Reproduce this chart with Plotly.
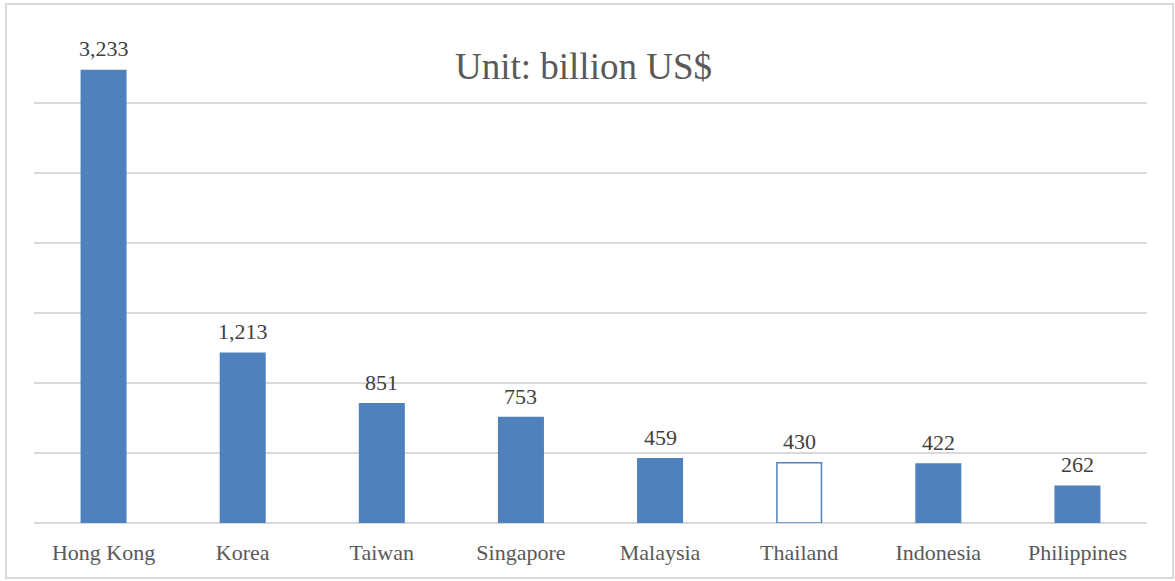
import plotly.graph_objects as go

# Category labels and values (billion US$)
economies = ["Hong Kong", "Korea", "Taiwan", "Singapore", "Malaysia",
             "Thailand", "Indonesia", "Philippines"]
values = [3233, 1213, 851, 753, 459, 430, 422, 262]
hollow = ["Thailand"]  # drawn with outline only

BLUE = "#4F81BD"
GRID = "#D9D9D9"
TEXT = "#595959"
FONT = "Liberation Serif, Times New Roman, serif"

fill_colors = ["white" if e in hollow else BLUE for e in economies]

fig = go.Figure()
fig.add_trace(go.Bar(
    x=economies,
    y=values,
    marker=dict(color=fill_colors, line=dict(color=BLUE, width=1.5)),
    width=0.32,
    hoverinfo="x+y",
))

# value labels above each bar
for e, v in zip(economies, values):
    fig.add_annotation(
        x=e, y=v, text=f"{v:,}", showarrow=False,
        yanchor="bottom", yshift=7,
        font=dict(family=FONT, size=22, color="#404040"),
    )

# chart title inside the plot area
fig.add_annotation(
    x=0.494, y=0.932, xref="paper", yref="paper", text="Unit: billion US$",
    showarrow=False, xanchor="center", yanchor="middle",
    font=dict(family=FONT, size=37, color=TEXT),
)

# outer chart frame
L, R, T, B = 34, 28, 33, 58
W, H = 1175, 581
pw, ph = W - L - R, H - T - B
fig.add_shape(
    type="rect", xref="paper", yref="paper",
    x0=(6 - L) / pw, x1=(1173 - L) / pw,
    y0=(H - B - 578) / ph, y1=(H - B - 4) / ph,
    line=dict(color=GRID, width=2), fillcolor="rgba(0,0,0,0)", layer="below",
)

fig.update_layout(
    width=W, height=H,
    margin=dict(l=L, r=R, t=T, b=B, pad=0),
    paper_bgcolor="white", plot_bgcolor="white",
    showlegend=False,
    font=dict(family=FONT, color=TEXT),
    xaxis=dict(
        showgrid=False, showline=False, ticks="",
        tickfont=dict(family=FONT, size=22, color=TEXT),
        ticklabelstandoff=14,
    ),
    yaxis=dict(
        range=[0, 3500], dtick=500, showticklabels=False,
        showgrid=True, gridcolor=GRID, gridwidth=1.5,
        zeroline=True, zerolinecolor=GRID, zerolinewidth=1.5,
        showline=False, ticks="",
    ),
)

fig.write_html("out.html")
